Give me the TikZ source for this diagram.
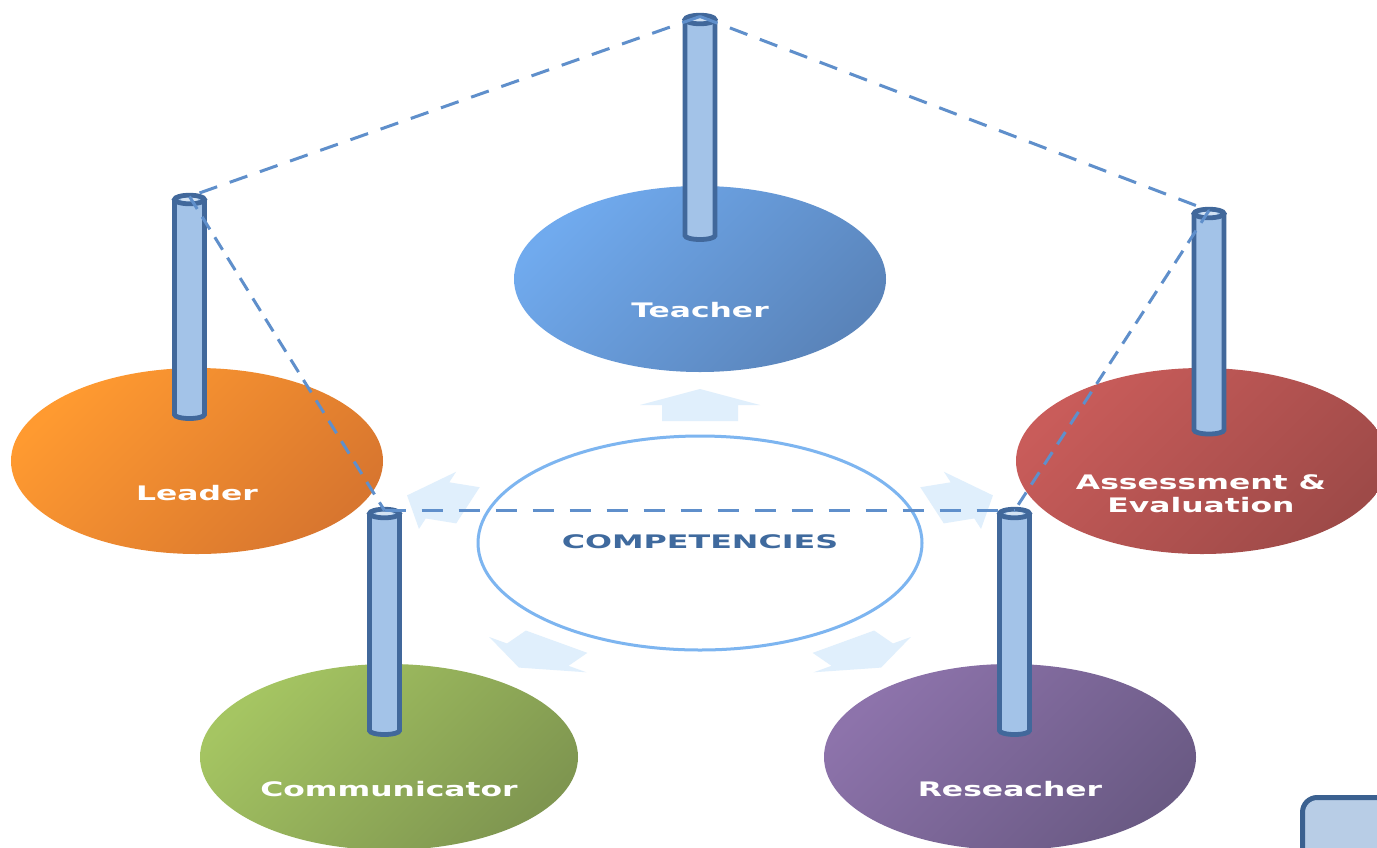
\documentclass[tikz,border=0pt]{standalone}
\usepackage{fontspec}
\setmainfont{DejaVu Sans}
\usetikzlibrary{shapes.geometric}
\definecolor{pilldark}{HTML}{41689B}
\definecolor{pillfill}{HTML}{A3C3E8}
\definecolor{pillhi}{HTML}{D3E2F2}
\definecolor{dashcol}{HTML}{5F8FCB}
\definecolor{arrcol}{HTML}{E0EFFC}
\definecolor{compline}{HTML}{7DB5F0}
\definecolor{comptext}{HTML}{3F6A9E}
\definecolor{tA}{HTML}{70AAEE}\definecolor{tB}{HTML}{5A84BA}
\definecolor{lA}{HTML}{FF9A30}\definecolor{lB}{HTML}{D8762F}
\definecolor{aA}{HTML}{C95C5A}\definecolor{aB}{HTML}{9E4A48}
\definecolor{cA}{HTML}{A5C562}\definecolor{cB}{HTML}{7F9650}
\definecolor{rA}{HTML}{8D73AB}\definecolor{rB}{HTML}{6A5A84}
\definecolor{boxfill}{HTML}{B8CDE6}
\definecolor{boxline}{HTML}{3B6190}
\newcommand\mypillar[4]{% name, cx, ytop, ybot
  \fill[pillfill] (#2-15,#3) -- (#2-15,#4) arc[start angle=180,end angle=360,x radius=11.25pt,y radius=3pt] -- (#2+15,#3) -- cycle;
  \draw[pillstroke] (#2-15,#3) -- (#2-15,#4) arc[start angle=180,end angle=360,x radius=11.25pt,y radius=3pt] -- (#2+15,#3);
  \filldraw[pillstroke, fill=pillfill] (#2,#3) ellipse[x radius=11.25pt, y radius=3.2pt];
  \fill[pillhi] (#2,#3) ellipse[x radius=6.5pt, y radius=1.3pt];
  \coordinate (#1) at (#2,#3-3);
}
\begin{document}
\begin{tikzpicture}[x=0.75pt,y=-0.75pt,
  pillstroke/.style={draw=pilldark, line width=3.6pt},
  bubble/.style={ellipse, inner sep=0pt, minimum width=279pt, minimum height=139.5pt},
  lbl/.style={text=white, font=\bfseries\fontsize{15}{18}\selectfont, xscale=1.57, anchor=base, align=center},
  dashline/.style={draw=dashcol, line width=2.25pt},
  blockarrow/.style={fill=arrcol}]
\useasboundingbox (0,0) rectangle (1377,847);
\clip (0,0) rectangle (1377,847);
\fill[white] (0,0) rectangle (1377,847);

% outer bubbles
\node[bubble, top color=tA, bottom color=tB, shading angle=45] (teacher) at (700,279) {};
\node[bubble, top color=lA, bottom color=lB, shading angle=45] (leader) at (197,461) {};
\node[bubble, top color=aA, bottom color=aB, shading angle=45] (assess) at (1202,461) {};
\node[bubble, top color=cA, bottom color=cB, shading angle=45, minimum width=283.5pt] (comm) at (389,757) {};
\node[bubble, top color=rA, bottom color=rB, shading angle=45] (res) at (1010,757) {};

% centre
\node[ellipse, draw=compline, line width=2.25pt, fill=white, minimum width=333pt, minimum height=160.5pt, inner sep=0pt] (comp) at (700,543) {};
\node[text=comptext, font=\bfseries\fontsize{14}{17}\selectfont, xscale=1.7, anchor=base] (comptxt) at (700,548) {COMPETENCIES};

% block arrows
\foreach \a in {0,72,-72,144,-144}{
  \fill[blockarrow, shift={(700,543)}, yscale=0.5, rotate=\a]
    (0,-308) -- (60,-276) -- (38,-276) -- (38,-244) -- (-38,-244) -- (-38,-276) -- (-60,-276) -- cycle;
}

% labels
\node[lbl] (teachertxt) at (700,317) {Teacher};
\node[lbl] (leadertxt) at (197,500) {Leader};
\node[lbl] (assesstxt1) at (1201,489) {Assessment \&};
\node[lbl] (assesstxt2) at (1201,512) {Evaluation};
\node[lbl] (commtxt) at (389,796) {Communicator};
\node[lbl] (restxt) at (1010,796) {Reseacher};

% pillars
\mypillar{pT}{700}{19.5}{235.5}
\mypillar{pL}{189.5}{199.5}{414.5}
\mypillar{pA}{1209}{213.5}{430}
\mypillar{pC}{384.5}{513.5}{730.5}
\mypillar{pR}{1014.5}{513.5}{730.5}

% dashed connections
\draw[dashline, dash pattern=on 14pt off 10pt] (pT) -- (pL);
\draw[dashline, dash pattern=on 14pt off 10pt] (pT) -- (pA);
\draw[dashline, dash pattern=on 11pt off 7pt] (pL) -- (pC);
\draw[dashline, dash pattern=on 11pt off 7pt] (pA) -- (pR);
\draw[dashline, dash pattern=on 15.75pt off 12pt] (pC) -- (pR);

% corner box
\node[draw=boxline, fill=boxfill, line width=3.75pt, rounded corners=11pt, minimum width=90pt, minimum height=80pt, anchor=north west] (cornerbox) at (1300,795) {};
\end{tikzpicture}
\end{document}
